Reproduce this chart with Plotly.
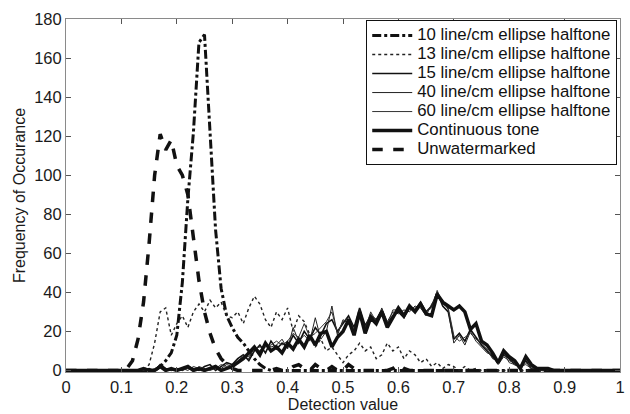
import plotly.graph_objects as go

detection = [
    0.00, 0.01, 0.02, 0.03, 0.04, 0.05, 0.06, 0.07, 0.08, 0.09,
    0.10, 0.11, 0.12, 0.13, 0.14, 0.15, 0.16, 0.17, 0.18, 0.19,
    0.20, 0.21, 0.22, 0.23, 0.24, 0.25, 0.26, 0.27, 0.28, 0.29,
    0.30, 0.31, 0.32, 0.33, 0.34, 0.35, 0.36, 0.37, 0.38, 0.39,
    0.40, 0.41, 0.42, 0.43, 0.44, 0.45, 0.46, 0.47, 0.48, 0.49,
    0.50, 0.51, 0.52, 0.53, 0.54, 0.55, 0.56, 0.57, 0.58, 0.59,
    0.60, 0.61, 0.62, 0.63, 0.64, 0.65, 0.66, 0.67, 0.68, 0.69,
    0.70, 0.71, 0.72, 0.73, 0.74, 0.75, 0.76, 0.77, 0.78, 0.79,
    0.80, 0.81, 0.82, 0.83, 0.84, 0.85, 0.86, 0.87, 0.88, 0.89,
    0.90, 0.91, 0.92, 0.93, 0.94, 0.95, 0.96, 0.97, 0.98, 0.99, 1.00,
]

halftone_10 = [
    0, 0, 0, 0, 0, 0, 0, 0, 0, 0,
    0, 0, 0, 0, 0, 0, 0, 2, 5, 9,
    18, 45, 88, 122, 168, 172, 122, 72, 42, 28,
    22, 17, 14, 10, 6, 3, 1, 0, 0, 0,
    0, 0, 0, 0, 0, 0, 0, 0, 0, 0,
    0, 0, 0, 0, 0, 0, 0, 0, 0, 0,
    0, 0, 0, 0, 0, 0, 0, 0, 0, 0,
    0, 0, 0, 0, 0, 0, 0, 0, 0, 0,
    0, 0, 0, 0, 0, 0, 0, 0, 0, 0,
    0, 0, 0, 0, 0, 0, 0, 0, 0, 0, 0,
]

halftone_13 = [
    0, 0, 0, 0, 0, 0, 0, 0, 0, 0,
    0, 0, 0, 0, 0, 3, 14, 30, 32, 18,
    24, 28, 22, 30, 34, 30, 36, 32, 35, 28,
    27, 30, 24, 32, 38, 34, 26, 22, 30, 26,
    32, 20, 28, 25, 18, 12, 16, 10, 12, 8,
    4, 8, 10, 14, 10, 12, 6, 8, 14, 10,
    12, 6, 10, 8, 4, 6, 2, 4, 1, 3,
    2, 0, 2, 0, 1, 0, 0, 0, 0, 0,
    0, 0, 0, 0, 0, 0, 0, 0, 0, 0,
    0, 0, 0, 0, 0, 0, 0, 0, 0, 0, 0,
]

halftone_15 = [
    0, 0, 0, 0, 0, 0, 0, 0, 0, 0,
    0, 0, 0, 0, 0, 1, 0, 3, 1, 0,
    1, 0, 2, 1, 0, 2, 3, 0, 2, 4,
    3, 6, 8, 5, 10, 13, 9, 15, 11, 14,
    12, 18, 14, 20, 16, 22, 18, 24, 26, 20,
    24, 28, 22, 32, 23, 28, 26, 31, 24, 28,
    30, 27, 32, 31, 35, 30, 33, 40, 33, 30,
    16, 19, 15, 21, 17, 13, 10, 7, 4, 8,
    6, 3, 2, 5, 1, 1, 0, 0, 0, 0,
    0, 0, 0, 0, 0, 0, 0, 0, 0, 0, 0,
]

halftone_40 = [
    0, 0, 0, 0, 0, 0, 0, 0, 0, 0,
    0, 0, 0, 0, 1, 0, 0, 2, 0, 1,
    0, 1, 0, 2, 1, 0, 1, 2, 1, 3,
    2, 5, 7, 6, 12, 10, 14, 12, 13, 16,
    11, 22, 15, 18, 15, 27, 16, 20, 33, 18,
    26, 24, 20, 31, 22, 29, 24, 32, 25, 30,
    29, 31, 30, 33, 32, 28, 34, 38, 36, 31,
    14, 18, 13, 20, 15, 12, 9, 8, 3, 7,
    5, 4, 1, 4, 2, 0, 1, 0, 0, 0,
    0, 0, 0, 0, 0, 0, 0, 0, 0, 0, 0,
]

halftone_60 = [
    0, 0, 0, 0, 0, 0, 0, 0, 0, 0,
    0, 0, 0, 0, 0, 0, 1, 2, 0, 0,
    1, 0, 1, 0, 2, 1, 0, 1, 3, 2,
    1, 4, 8, 7, 11, 12, 12, 13, 15, 13,
    15, 19, 17, 24, 17, 19, 22, 25, 30, 19,
    25, 27, 21, 29, 21, 30, 25, 29, 23, 31,
    31, 29, 31, 32, 33, 30, 32, 41, 34, 32,
    18, 15, 17, 19, 16, 14, 11, 6, 5, 9,
    4, 3, 2, 3, 1, 1, 0, 1, 0, 0,
    0, 0, 0, 0, 0, 0, 0, 0, 0, 0, 0,
]

continuous = [
    0, 0, 0, 0, 0, 0, 0, 0, 0, 0,
    0, 0, 0, 0, 1, 0, 0, 2, 0, 1,
    0, 1, 2, 0, 1, 0, 1, 2, 0, 1,
    2, 4, 6, 9, 12, 8, 14, 10, 12, 9,
    14, 11, 16, 12, 18, 13, 19, 20, 12, 17,
    20, 26, 18, 30, 19, 27, 24, 30, 22, 27,
    32, 28, 33, 30, 34, 29, 28, 39, 35, 33,
    31, 33, 30, 21, 24, 15, 13, 9, 4, 10,
    7, 5, 1, 7, 3, 1, 1, 1, 0, 0,
    0, 0, 0, 0, 0, 0, 0, 0, 0, 0, 0,
]

unwatermarked = [
    0, 0, 0, 0, 0, 0, 0, 0, 0, 0,
    0, 1, 5, 16, 35, 65, 100, 121, 113, 118,
    105, 100, 90, 68, 46, 30, 19, 11, 6, 3,
    1, 0, 0, 0, 0, 0, 0, 0, 1, 0,
    0, 2, 3, 1, 0, 3, 1, 0, 2, 0,
    0, 3, 1, 0, 0, 0, 0, 0, 0, 1,
    3, 1, 0, 0, 0, 0, 0, 0, 0, 0,
    0, 0, 0, 0, 0, 0, 0, 0, 0, 0,
    0, 0, 0, 0, 0, 0, 0, 0, 0, 0,
    0, 0, 0, 0, 0, 0, 0, 0, 0, 0, 0,
]

series_names = [
    "10 line/cm ellipse halftone",
    "13 line/cm ellipse halftone",
    "15 line/cm ellipse halftone",
    "40 line/cm ellipse halftone",
    "60 line/cm ellipse halftone",
    "Continuous tone",
    "Unwatermarked",
]

series_values = [halftone_10, halftone_13, halftone_15, halftone_40,
                 halftone_60, continuous, unwatermarked]
series_styles = [
    dict(color="#111111", width=3, dash="dashdot"),
    dict(color="#222222", width=1.4, dash="dot"),
    dict(color="#111111", width=1.6, dash="solid"),
    dict(color="#222222", width=1.0, dash="solid"),
    dict(color="#333333", width=1.0, dash="solid"),
    dict(color="#111111", width=3.5, dash="solid"),
    dict(color="#111111", width=3.5, dash="dash"),
]

FONT = "Liberation Sans, Arial, sans-serif"

fig = go.Figure()
for name, vals, style in zip(series_names, series_values, series_styles):
    fig.add_trace(go.Scatter(
        x=detection, y=vals, mode="lines",
        name='<span style="font-size:16.8px">' + name + '</span>',
        line=style))

axis_common = dict(
    showline=True, linecolor="#8a8a8a", linewidth=1, mirror="ticks",
    ticks="inside", ticklen=5, tickcolor="#555555", showgrid=False,
    zeroline=False, tickfont=dict(family=FONT, size=16.5, color="#1a1a1a"),
)

fig.update_layout(
    width=630, height=414,
    margin=dict(l=66, r=5, t=19, b=40),
    paper_bgcolor="white", plot_bgcolor="white",
    font=dict(family=FONT, size=16, color="#1a1a1a"),
    xaxis=dict(range=[0, 1], dtick=0.1, tick0=0,
               title=dict(text="Detection value", standoff=2,
                          font=dict(family=FONT, size=16)),
               **axis_common),
    yaxis=dict(range=[-0.8, 180], dtick=20, tick0=0,
               title=dict(text="Frequency of Occurance", standoff=4,
                          font=dict(family=FONT, size=16)),
               **axis_common),
    legend=dict(x=0.995, y=0.997, xanchor="right", yanchor="top",
                bgcolor="white", bordercolor="#111111", borderwidth=1,
                font=dict(family=FONT, size=11, color="#111111"),
                tracegroupgap=0, itemwidth=40),
    showlegend=True,
)

fig.write_html("out.html")
